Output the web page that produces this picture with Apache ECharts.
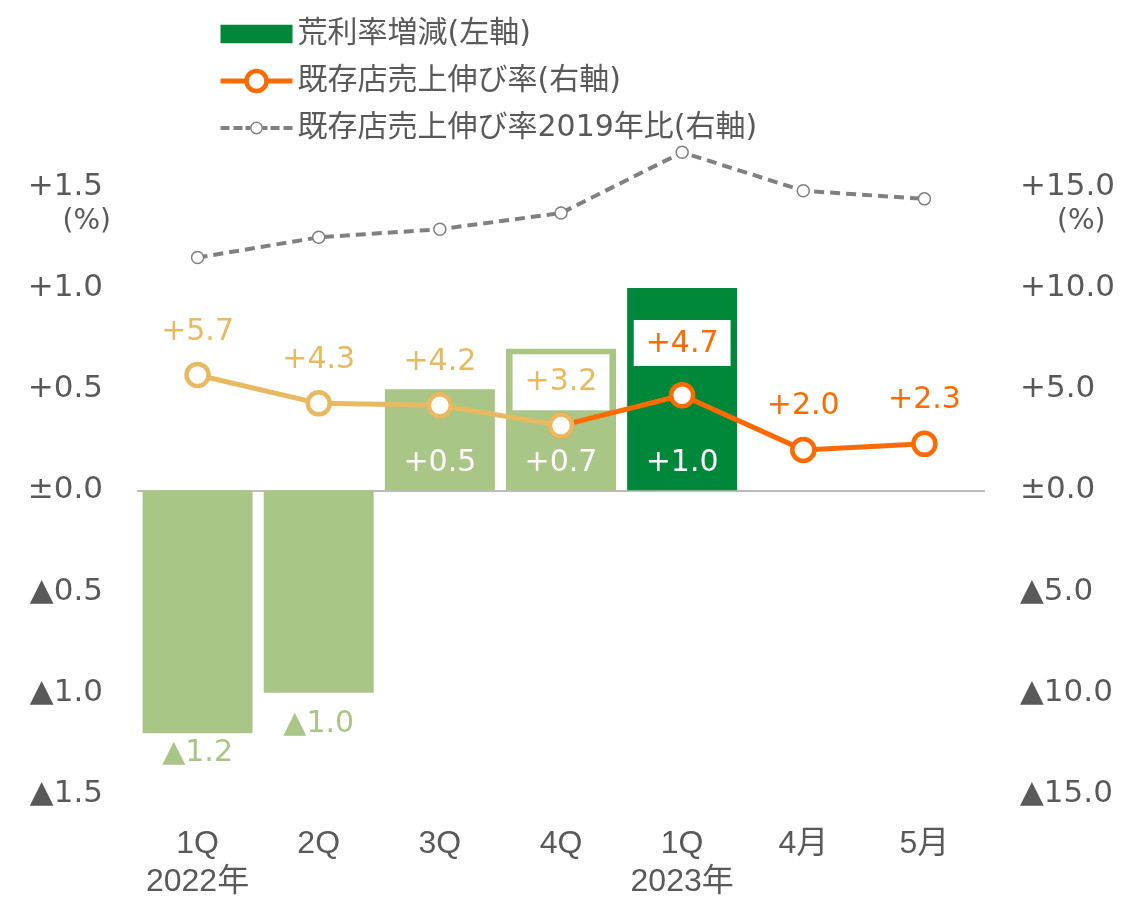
<!DOCTYPE html>
<html>
<head>
<meta charset="utf-8">
<script src="https://cdn.jsdelivr.net/npm/echarts@6/dist/echarts.min.js"></script>
<style>html,body{margin:0;padding:0;background:#fff;}#c{width:1140px;height:901px;}</style>
</head>
<body>
<div id="c"></div>
<script>
const categories = ['1Q\n2022年', '2Q', '3Q', '4Q', '1Q\n2023年', '4月', '5月'];
const grossMarginChange = [-1.2, -1.0, 0.5, 0.7, 1.0, null, null];
const salesGrowthEarly = [5.7, 4.3, 4.2, 3.2, null, null, null];
const salesGrowthLate = [null, null, null, 3.2, 4.7, 2.0, 2.3];
const salesVs2019 = [11.5, 12.5, 12.9, 13.7, 16.7, 14.8, 14.4];
const leftTicks = { min: -1.5, max: 1.8, interval: 0.5, top: 1.5 };
const rightTicks = { min: -15, max: 18, interval: 5, top: 15 };
const seriesNames = ['荒利率増減(左軸)', '既存店売上伸び率(右軸)', '既存店売上伸び率2019年比(右軸)'];

const FONT = '"DejaVu Sans", "Noto Sans CJK JP", sans-serif';
const XFONT = '"Liberation Sans", "Noto Sans CJK JP", sans-serif';
const GRAY = '#595959';
const LIGHT_GREEN = '#a9c687';
const DARK_GREEN = '#00883a';
const ORANGE = '#ff6a00';
const YELLOW = '#e8b960';

function fmt(v, top) {
  if (v > top + 1e-9) return '';
  if (Math.abs(v) < 1e-9) return '±0.0';
  if (v > 0) return '+' + v.toFixed(1);
  return '▲' + (-v).toFixed(1);
}

const chart = echarts.init(document.getElementById('c'));

const barData = grossMarginChange.map((v, i) => {
  if (v === null) return null;
  const item = { value: v, itemStyle: { color: i === 4 ? DARK_GREEN : LIGHT_GREEN } };
  if (v < 0) {
    item.label = { position: 'bottom', distance: i === 0 ? 5 : 16, color: LIGHT_GREEN };
  } else {
    item.label = { position: 'insideBottom', distance: 12, color: '#ffffff' };
  }
  return item;
});

const earlyData = salesGrowthEarly.map((v, i) => {
  if (v === null) return null;
  const item = { value: v };
  if (i === 3) {
    item.label = { backgroundColor: '#ffffff', padding: [13, 12, 13, 12], distance: 2 };
  }
  return item;
});
const lateData = salesGrowthLate.map((v, i) => {
  if (v === null) return null;
  const item = { value: v };
  if (i === 3) item.label = { show: false };
  if (i === 4) item.label = { backgroundColor: '#ffffff', padding: [9, 12, 7, 12], distance: 16 };
  return item;
});

const barIcon = 'path://M0,0 L70,0 L70,18 L0,18 Z';
const dashIcon = 'path://M0,4.5 L9,4.5 L9,8.5 L0,8.5 Z M13,4.5 L22,4.5 L22,8.5 L13,8.5 Z M25,4.5 L29.5,4.5 L29.5,8.5 L25,8.5 Z ' +
  'M29.5,6.5 A6.5,6.5 0 1,0 42.5,6.5 A6.5,6.5 0 1,0 29.5,6.5 Z M31,6.5 A5,5 0 1,1 41,6.5 A5,5 0 1,1 31,6.5 Z ' +
  'M42.5,4.5 L47,4.5 L47,8.5 L42.5,8.5 Z M50,4.5 L59,4.5 L59,8.5 L50,8.5 Z M63,4.5 L72,4.5 L72,8.5 L63,8.5 Z';

chart.setOption({
  animation: false,
  textStyle: { fontFamily: FONT },
  legend: {
    data: [
      { name: seriesNames[0], icon: barIcon },
      { name: seriesNames[1], lineStyle: { width: 5 }, itemStyle: { borderWidth: 4.5 } },
      { name: seriesNames[2], icon: dashIcon, itemStyle: { color: '#808080', borderWidth: 0 } }
    ],
    orient: 'vertical',
    left: 213,
    top: 14,
    itemWidth: 72,
    itemHeight: 25,
    itemGap: 17,
    symbolKeepAspect: true,
    textStyle: { fontSize: 30, color: GRAY, fontFamily: FONT }
  },
  grid: { left: 137, right: 155, top: 126, bottom: 103 },
  xAxis: {
    type: 'category',
    data: categories,
    axisLine: { show: false },
    axisTick: { show: false },
    axisLabel: {
      margin: 31,
      fontSize: 32,
      lineHeight: 38,
      color: GRAY,
      fontFamily: XFONT,
      interval: 0
    }
  },
  yAxis: [
    {
      type: 'value', min: leftTicks.min, max: leftTicks.max, interval: leftTicks.interval,
      splitLine: { show: false }, axisLine: { show: false }, axisTick: { show: false },
      axisLabel: { margin: 34, fontSize: 31, color: GRAY, fontFamily: FONT, formatter: v => fmt(v, leftTicks.top) }
    },
    {
      type: 'value', min: rightTicks.min, max: rightTicks.max, interval: rightTicks.interval,
      splitLine: { show: false }, axisLine: { show: false }, axisTick: { show: false },
      axisLabel: { margin: 35, fontSize: 31, color: GRAY, fontFamily: FONT, formatter: v => fmt(v, rightTicks.top) }
    }
  ],
  graphic: [
    { type: 'text', right: 1140 - 111, top: 208, style: { text: '(%)', font: '28px ' + FONT, fill: GRAY } },
    { type: 'text', left: 1057, top: 208, style: { text: '(%)', font: '28px ' + FONT, fill: GRAY } }
  ],
  series: [
    {
      name: seriesNames[0],
      type: 'bar',
      yAxisIndex: 0,
      barWidth: 110,
      itemStyle: { color: DARK_GREEN },
      data: barData,
      label: {
        show: true,
        fontSize: 30,
        fontFamily: FONT,
        formatter: p => fmt(p.value, 99)
      },
      markLine: {
        silent: true,
        symbol: 'none',
        label: { show: false },
        lineStyle: { color: '#a6a6a6', width: 1.5, type: 'solid' },
        data: [{ yAxis: 0 }],
        z: 1
      }
    },
    {
      name: seriesNames[2],
      type: 'line',
      yAxisIndex: 1,
      data: salesVs2019,
      symbol: 'circle',
      symbolSize: 12,
      lineStyle: { color: '#808080', width: 4, type: [10, 6] },
      itemStyle: { color: '#ffffff', borderColor: '#7f7f7f', borderWidth: 1.5 },
      z: 3
    },
    {
      name: seriesNames[1],
      type: 'line',
      yAxisIndex: 1,
      data: lateData,
      symbol: 'circle',
      symbolSize: 22,
      connectNulls: false,
      lineStyle: { color: ORANGE, width: 5 },
      itemStyle: { color: '#ffffff', borderColor: ORANGE, borderWidth: 4.5 },
      label: {
        show: true, position: 'top', distance: 15, fontSize: 30, color: ORANGE, fontFamily: FONT,
        formatter: p => fmt(p.value, 99)
      },
      z: 4
    },
    {
      name: 'early',
      type: 'line',
      yAxisIndex: 1,
      data: earlyData,
      symbol: 'circle',
      symbolSize: 22,
      lineStyle: { color: YELLOW, width: 5 },
      itemStyle: { color: '#ffffff', borderColor: YELLOW, borderWidth: 4.5 },
      label: {
        show: true, position: 'top', distance: 15, fontSize: 30, color: YELLOW, fontFamily: FONT,
        formatter: p => fmt(p.value, 99)
      },
      z: 5
    }
  ]
});
</script>
</body>
</html>
